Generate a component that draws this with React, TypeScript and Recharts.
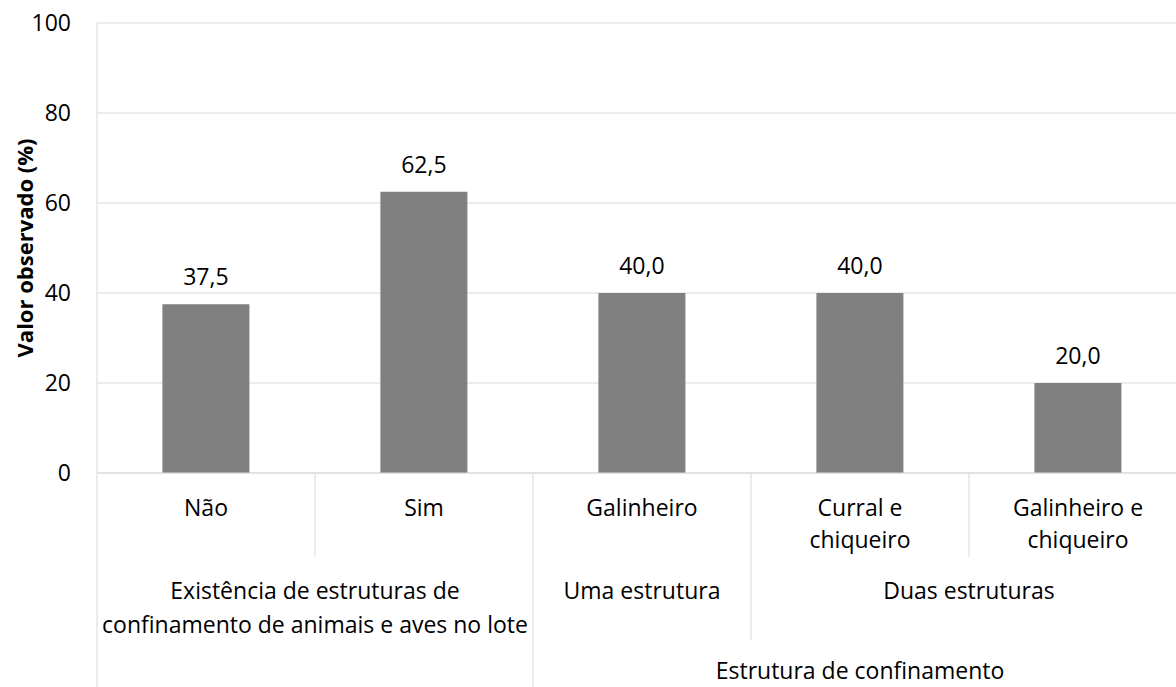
import { BarChart, Bar, XAxis, YAxis, CartesianGrid, LabelList } from 'recharts'

const categories = ['Não', 'Sim', 'Galinheiro', 'Curral e\nchiqueiro', 'Galinheiro e\nchiqueiro']
const values = [37.5, 62.5, 40.0, 40.0, 20.0]
const yTicks = [0, 20, 40, 60, 80, 100]

// second row of the category axis: label lines, first category, how many categories
const groups = [
  { lines: ['Existência de estruturas de', 'confinamento de animais e aves no lote'], start: 0, span: 2 },
  { lines: ['Uma estrutura'], start: 2, span: 1 },
  { lines: ['Duas estruturas'], start: 3, span: 2 },
]
// third row
const topGroups = [{ lines: ['Estrutura de confinamento'], start: 2, span: 3 }]

const data = categories.map((name, i) => ({ name, value: values[i] }))

const FONT = "'Open Sans', sans-serif"
const GRID = '#d9d9d9'
const AXIS_H = 214
const FS = 23

function CategoryTick(props: any) {
  const { x, y, payload, index } = props
  const bw = (payload?.offset ? payload.offset * 2 : 0) || props.width / categories.length
  const left = x - bw / 2
  const lines = String(payload.value).split('\n')

  const group = groups.find((g) => g.start === index)
  const top = topGroups.find((g) => g.start === index)

  let sepEnd = y + 84
  if (index === 0 || top) sepEnd = y + AXIS_H
  else if (group) sepEnd = y + 167

  return (
    <g>
      <line x1={left} x2={left} y1={y} y2={sepEnd} stroke={GRID} strokeWidth={1} />
      {lines.map((l, i) => (
        <text key={i} x={x} y={y + 43 + i * 32} textAnchor="middle" fontSize={FS} fill="#000">
          {l}
        </text>
      ))}
      {group &&
        group.lines.map((l, i) => (
          <text
            key={'g' + i}
            x={left + (group.span * bw) / 2}
            y={y + 126 + i * 34}
            textAnchor="middle"
            fontSize={FS}
            fill="#000"
          >
            {l}
          </text>
        ))}
      {top &&
        top.lines.map((l, i) => (
          <text
            key={'t' + i}
            x={left + (top.span * bw) / 2}
            y={y + 206 + i * 34}
            textAnchor="middle"
            fontSize={FS}
            fill="#000"
          >
            {l}
          </text>
        ))}
    </g>
  )
}

function YTitle(props: any) {
  const vb = props.viewBox || { x: 0, y: 23, width: 97, height: 450 }
  const cx = vb.x + 24
  const cy = vb.y + vb.height / 2
  return (
    <text
      x={cx}
      y={cy}
      transform={`rotate(-90, ${cx}, ${cy})`}
      textAnchor="middle"
      dominantBaseline="central"
      fontSize={22}
      fontWeight={700}
      fill="#000"
    >
      Valor observado (%)
    </text>
  )
}

export default function App() {
  return (
    <div
      style={{
        position: 'absolute',
        left: 0,
        top: 0,
        width: 1176,
        height: 687,
        overflow: 'hidden',
        background: '#fff',
        fontFamily: FONT,
      }}
    >
      <BarChart
        width={1200}
        height={687}
        data={data}
        margin={{ top: 23, right: 13, bottom: 0, left: 0 }}
        barCategoryGap="30%"
      >
        <CartesianGrid vertical={false} stroke={GRID} />
        <XAxis
          dataKey="name"
          height={AXIS_H}
          interval={0}
          tickLine={false}
          tickSize={0}
          tickMargin={0}
          axisLine={{ stroke: GRID }}
          tick={<CategoryTick />}
        />
        <YAxis
          width={97}
          domain={[0, 100]}
          ticks={yTicks}
          tickLine={false}
          tickSize={0}
          tickMargin={26}
          axisLine={{ stroke: GRID }}
          tick={{ fontSize: FS, fill: '#000' }}
          label={<YTitle />}
        />
        <Bar dataKey="value" fill="#808080" isAnimationActive={false}>
          <LabelList
            dataKey="value"
            position="top"
            offset={19}
            fontSize={FS}
            fill="#000"
            formatter={(v: any) => Number(v).toFixed(1).replace('.', ',')}
          />
        </Bar>
      </BarChart>
    </div>
  )
}
